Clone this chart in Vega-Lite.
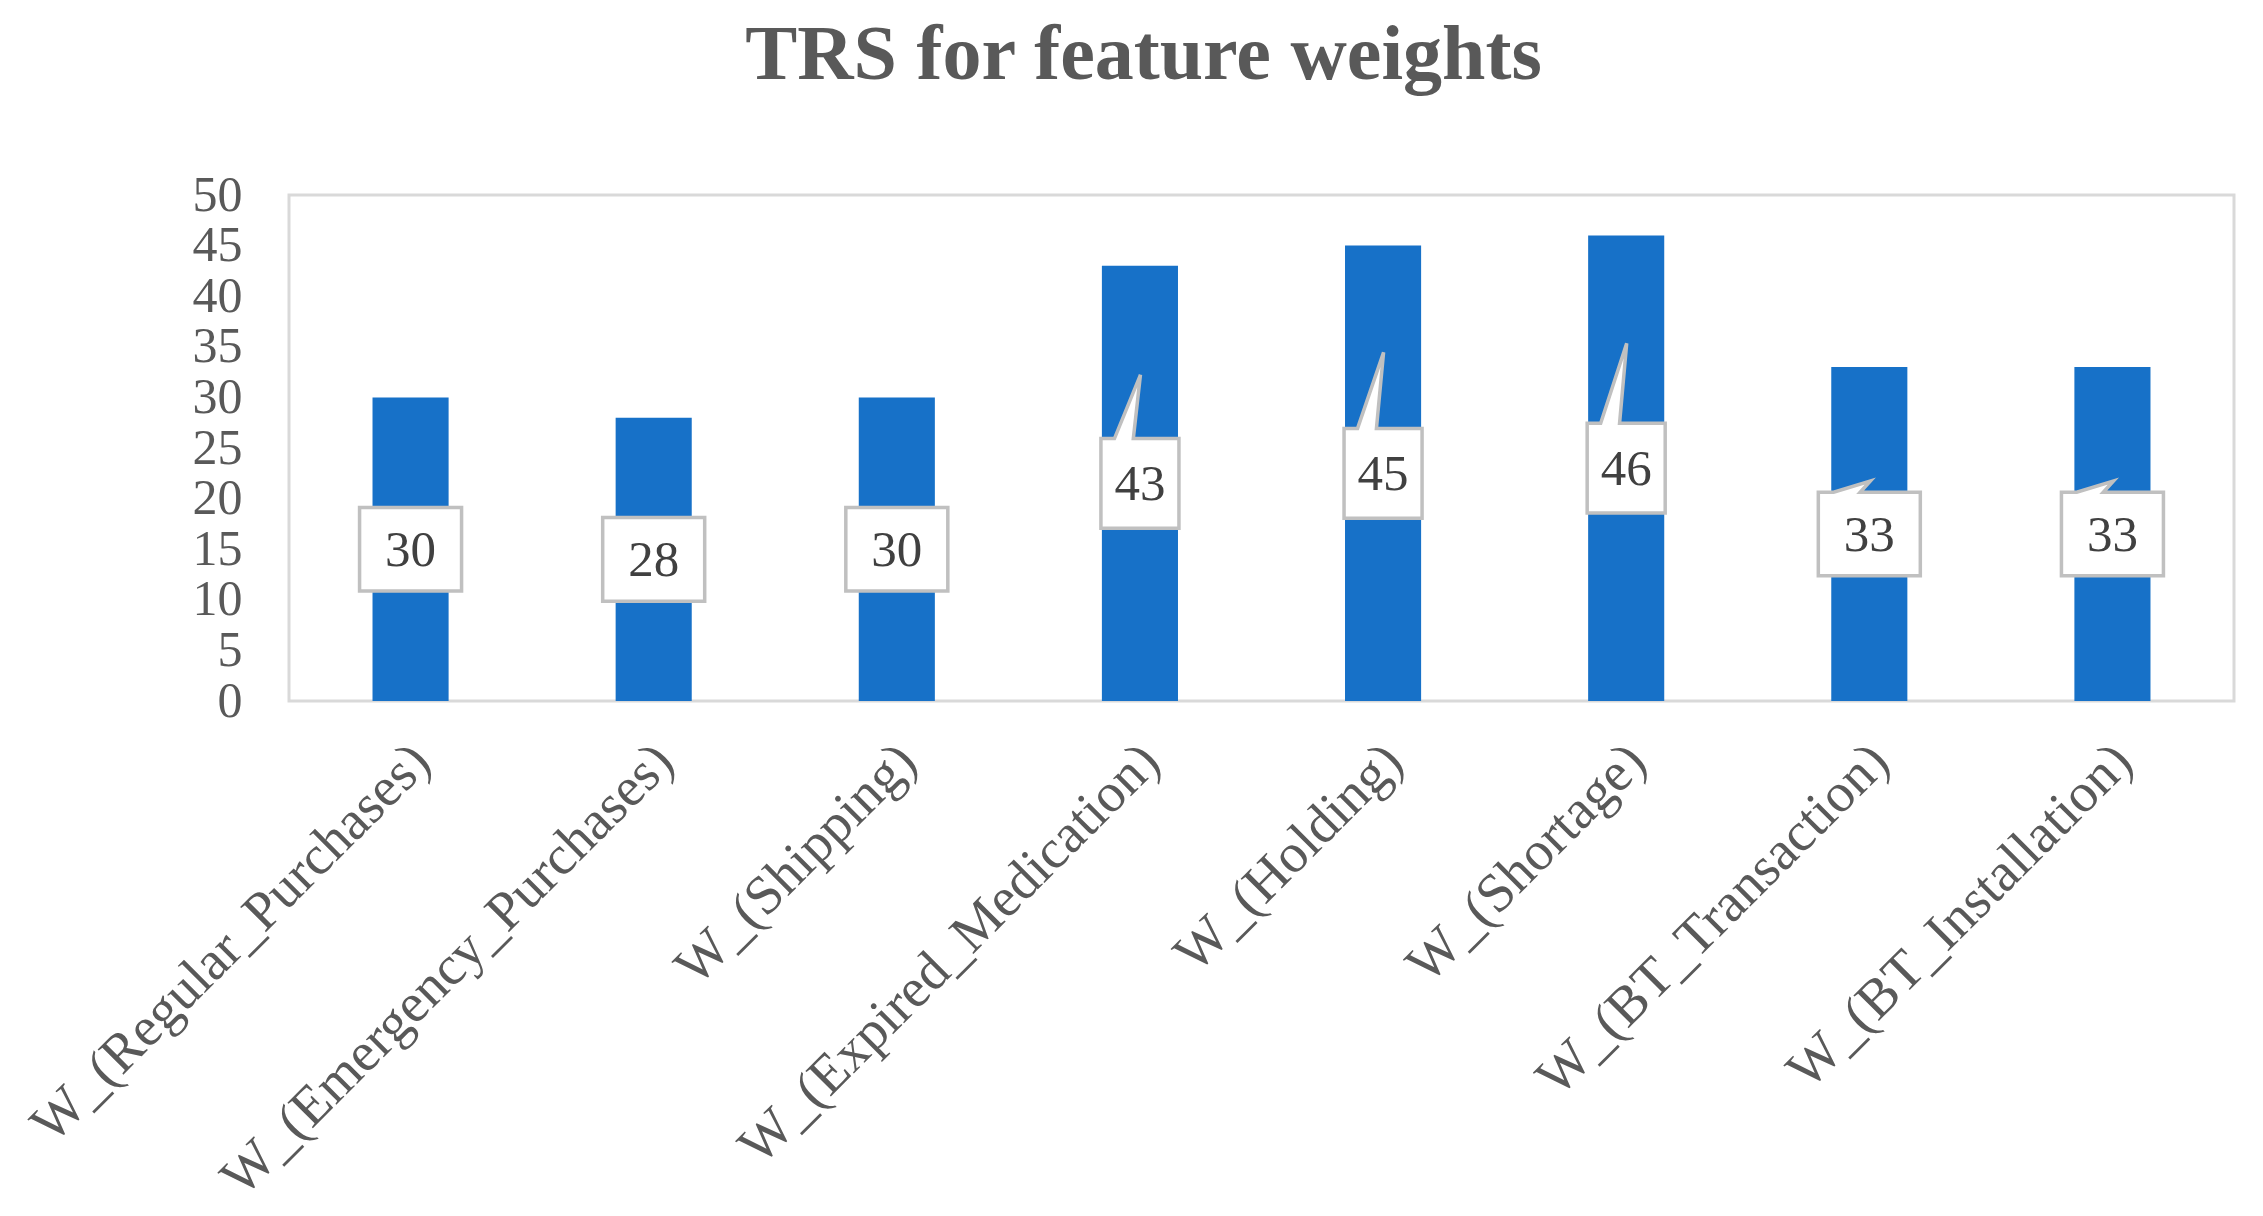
{
  "$schema": "https://vega.github.io/schema/vega-lite/v6.json",
  "autosize": {"type": "none"},
  "width": 1945,
  "height": 506,
  "padding": {"left": 289, "top": 195, "right": 29, "bottom": 515},
  "background": "white",
  "title": {
    "text": "TRS for feature weights",
    "font": "Liberation Serif",
    "fontSize": 78,
    "fontWeight": "bold",
    "color": "#595959",
    "anchor": "middle",
    "frame": "group",
    "baseline": "alphabetic",
    "offset": 13,
    "dx": -118
  },
  "data": {
    "values": [
      {"feature": "W_(Regular_Purchases)", "value": 30},
      {"feature": "W_(Emergency_Purchases)", "value": 28},
      {"feature": "W_(Shipping)", "value": 30},
      {"feature": "W_(Expired_Medication)", "value": 43},
      {"feature": "W_(Holding)", "value": 45},
      {"feature": "W_(Shortage)", "value": 46},
      {"feature": "W_(BT_Transaction)", "value": 33},
      {"feature": "W_(BT_Installation)", "value": 33}
    ]
  },
  "encoding": {
    "x": {
      "field": "feature",
      "type": "nominal",
      "sort": null,
      "scale": {"paddingInner": 0.687, "paddingOuter": 0.3435},
      "axis": {
        "title": null,
        "labelAngle": -45,
        "labelFont": "Liberation Serif",
        "labelFontSize": 55,
        "labelColor": "#595959",
        "labelPadding": 33,
        "labelOffset": -8,
        "labelLimit": 2000,
        "ticks": false,
        "domain": false,
        "grid": false
      }
    }
  },
  "layer": [
    {
      "mark": {"type": "bar", "color": "#1771C8"},
      "encoding": {
        "y": {
          "field": "value",
          "type": "quantitative",
          "scale": {"domain": [0, 50], "nice": false},
          "axis": {
            "title": null,
            "values": [0, 5, 10, 15, 20, 25, 30, 35, 40, 45, 50],
            "labelFont": "Liberation Serif",
            "labelFontSize": 50,
            "labelColor": "#595959",
            "labelPadding": 47,
            "ticks": false,
            "domain": false,
            "grid": false
          }
        }
      }
    },
    {
      "mark": {"type": "point", "filled": true, "fill": "white", "stroke": "#c0c0c0", "strokeWidth": 3.5, "opacity": 1, "size": 10404},
      "encoding": {
        "y": {"field": "value", "type": "quantitative", "scale": {"domain": [0, 100], "nice": false}, "axis": null},
        "shape": {
          "condition": [
            {"test": "datum.value == 43", "value": "M-0.765,-0.88H-0.5L0.01,-2.13L-0.13,-0.88H0.765V0.88H-0.765Z"},
            {"test": "datum.value == 45", "value": "M-0.765,-0.88H-0.5L0.01,-2.37L-0.13,-0.88H0.765V0.88H-0.765Z"},
            {"test": "datum.value == 46", "value": "M-0.765,-0.88H-0.5L0.01,-2.45L-0.13,-0.88H0.765V0.88H-0.765Z"},
            {"test": "datum.value == 33", "value": "M-1,-0.82H-0.7L0.02,-1.04L-0.18,-0.82H1V0.82H-1Z"}
          ],
          "value": "M-1,-0.82H1V0.82H-1Z"
        }
      }
    },
    {
      "mark": {"type": "text", "font": "Liberation Serif", "fontSize": 51, "color": "#404040", "baseline": "middle", "align": "center", "dy": 2},
      "encoding": {
        "y": {"field": "value", "type": "quantitative", "scale": {"domain": [0, 100], "nice": false}, "axis": null},
        "text": {"field": "value", "type": "quantitative"}
      }
    }
  ],
  "resolve": {"scale": {"y": "independent"}},
  "config": {
    "view": {"stroke": "#d9d9d9", "strokeWidth": 3}
  }
}
